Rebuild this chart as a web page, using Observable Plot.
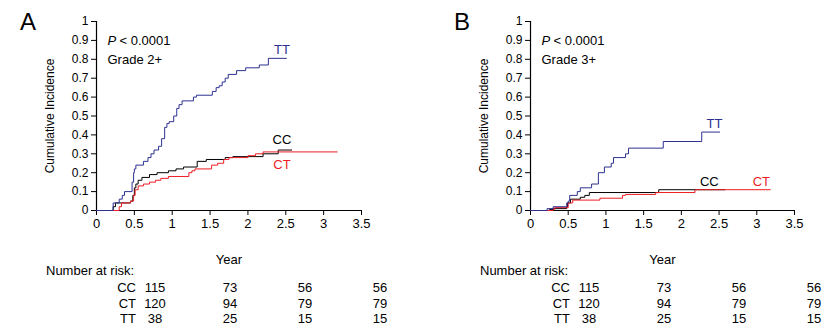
<!DOCTYPE html>
<html>
<head>
<meta charset="utf-8">
<script src="https://cdn.jsdelivr.net/npm/d3@7"></script>
<script src="https://cdn.jsdelivr.net/npm/@observablehq/plot@0.6"></script>
<style>
  body { margin: 0; background: #fff; font-family: "Liberation Sans", Arial, sans-serif; }
  #wrap { display: flex; width: 830px; height: 336px; }
  .panel { position: relative; width: 415px; height: 336px; }
  .panel svg { position: absolute; left: 0; top: 0; }
  .abs { position: absolute; white-space: nowrap; font-size: 13px; line-height: 15px; color: #000; }
  .letter { position: absolute; font-size: 24px; line-height: 24px; color: #000; }
</style>
</head>
<body>
<div id="wrap"></div>
<script>
// ---------- data ----------
const groups = ["CC", "CT", "TT"];
const groupColors = ["#000000", "#ee1c24", "#2e3192"];
const xTicks = [0, 0.5, 1, 1.5, 2, 2.5, 3, 3.5];
const xTickLabels = ["0", "0.5", "1", "1.5", "2", "2.5", "3", "3.5"];
const yTicks = [0, 0.1, 0.2, 0.3, 0.4, 0.5, 0.6, 0.7, 0.8, 0.9, 1];
const yTickLabels = ["0", "0.1", "0.2", "0.3", "0.4", "0.5", "0.6", "0.7", "0.8", "0.9", "1"];

// Panel A: Grade 2+
const g2_CC_t = [0, 0.22, 0.25, 0.45, 0.48, 0.50, 0.52, 0.55, 0.60, 0.70, 0.80, 0.95, 1.05, 1.15, 1.33, 1.45, 1.70, 1.80, 2.20, 2.40, 2.58];
const g2_CC_v = [0, 0.02, 0.04, 0.05, 0.08, 0.12, 0.14, 0.16, 0.175, 0.19, 0.20, 0.21, 0.22, 0.23, 0.26, 0.27, 0.28, 0.285, 0.30, 0.32, 0.32];
const g2_CT_t = [0, 0.30, 0.33, 0.45, 0.49, 0.51, 0.55, 0.62, 0.70, 0.78, 0.85, 0.95, 1.22, 1.26, 1.30, 1.52, 1.60, 1.68, 1.75, 2.00, 2.10, 2.20, 3.18];
const g2_CT_v = [0, 0.02, 0.04, 0.05, 0.08, 0.11, 0.13, 0.14, 0.15, 0.16, 0.17, 0.18, 0.20, 0.21, 0.22, 0.24, 0.25, 0.27, 0.28, 0.29, 0.30, 0.31, 0.31];
const g2_TT_t = [0, 0.22, 0.30, 0.34, 0.37, 0.47, 0.49, 0.50, 0.52, 0.62, 0.68, 0.72, 0.76, 0.82, 0.86, 0.90, 0.93, 0.96, 1.02, 1.06, 1.09, 1.13, 1.28, 1.32, 1.53, 1.58, 1.62, 1.66, 1.70, 1.74, 1.85, 1.97, 2.15, 2.27, 2.51];
const g2_TT_v = [0, 0.04, 0.06, 0.08, 0.10, 0.15, 0.20, 0.22, 0.24, 0.26, 0.28, 0.30, 0.32, 0.34, 0.38, 0.44, 0.46, 0.47, 0.50, 0.54, 0.56, 0.58, 0.60, 0.61, 0.63, 0.65, 0.66, 0.68, 0.70, 0.72, 0.74, 0.755, 0.77, 0.805, 0.805];
const g2_labelX = [2.45, 2.45, 2.45];   // CC, CT, TT
const g2_labelY = [0.374, 0.24, 0.85];

// Panel B: Grade 3+
const g3_CC_t = [0, 0.25, 0.30, 0.48, 0.49, 0.53, 0.66, 0.72, 0.78, 1.70, 2.58];
const g3_CC_v = [0, 0.005, 0.01, 0.02, 0.04, 0.06, 0.07, 0.08, 0.095, 0.11, 0.11];
const g3_CT_t = [0, 0.30, 0.32, 0.50, 0.56, 0.92, 1.22, 1.26, 1.66, 2.18, 3.18];
const g3_CT_v = [0, 0.005, 0.015, 0.04, 0.055, 0.065, 0.08, 0.085, 0.095, 0.11, 0.11];
const g3_TT_t = [0, 0.22, 0.30, 0.48, 0.50, 0.52, 0.62, 0.66, 0.81, 0.90, 0.98, 1.07, 1.10, 1.26, 1.30, 1.76, 2.27, 2.51];
const g3_TT_v = [0, 0.01, 0.02, 0.04, 0.05, 0.08, 0.10, 0.12, 0.14, 0.20, 0.23, 0.25, 0.28, 0.30, 0.33, 0.365, 0.415, 0.415];
const g3_labelX = [2.37, 3.06, 2.44];
const g3_labelY = [0.153, 0.153, 0.46];

// Number at risk
const riskGroups = ["CC", "CT", "TT"];
const riskCC = [115, 73, 56, 56];
const riskCT = [120, 94, 79, 79];
const riskTT = [38, 25, 15, 15];

// ---------- build ----------
function rows(t, v, g) { return t.map((x, i) => ({t: x, v: v[i], g})); }

function panel({letter, grade, series, labelX, labelY, ml, mr}) {
  const data = [
    ...rows(series[0][0], series[0][1], "CC"),
    ...rows(series[1][0], series[1][1], "CT"),
    ...rows(series[2][0], series[2][1], "TT")
  ];
  const labels = groups.map((g, i) => ({g, x: labelX[i], y: labelY[i]}));
  const W = 415, H = 268, mt = 21, mb = 58;
  const svg = Plot.plot({
    width: W, height: H,
    marginLeft: ml, marginRight: mr, marginTop: mt, marginBottom: mb,
    x: {domain: [0, 3.5]},
    y: {domain: [0, 1]},
    color: {domain: groups, range: groupColors},
    style: {fontFamily: "'Liberation Sans', Arial, sans-serif", fontSize: "12px", color: "#000", background: "transparent", overflow: "visible"},
    marks: [
      Plot.axisX({ticks: xTicks, tickFormat: (d, i) => xTickLabels[i], tickSize: 5, tickPadding: 3, fontSize: 12,
        label: "Year", labelAnchor: "center", labelOffset: 53, labelArrow: "none", fontSize: 13}),
      Plot.axisY({ticks: yTicks, tickFormat: (d, i) => yTickLabels[i], tickSize: 5, tickPadding: 3, fontSize: 12,
        label: "Cumulative Incidence", labelAnchor: "center", labelOffset: 51, labelArrow: "none"}),
      Plot.ruleY([0], {strokeWidth: 1.2}),
      Plot.ruleX([0], {strokeWidth: 1.2}),
      Plot.line(data, {x: "t", y: "v", z: "g", stroke: "g", curve: "step-after", strokeWidth: 1}),
      Plot.text(labels, {x: "x", y: "y", text: "g", fill: "g", fontSize: 13, textAnchor: "middle"}),
      Plot.text(["P"], {frameAnchor: "top-left", dx: 11, dy: 14, text: d => d, fontSize: 13, fontStyle: "italic", textAnchor: "start"}),
      Plot.text(["< 0.0001"], {frameAnchor: "top-left", dx: 23, dy: 14, text: d => d, fontSize: 13, textAnchor: "start"}),
      Plot.text([grade], {frameAnchor: "top-left", dx: 11, dy: 33, text: d => d, fontSize: 13, textAnchor: "start"})
    ]
  });
  const div = document.createElement("div");
  div.className = "panel";
  div.appendChild(svg);
  const L = document.createElement("div");
  L.className = "letter";
  L.textContent = letter;
  L.style.left = (ml - 76) + "px";
  L.style.top = "10px";
  div.appendChild(L);
  // number at risk table
  const add = (txt, left, top, align) => {
    const e = document.createElement("div");
    e.className = "abs";
    e.textContent = txt;
    e.style.top = top + "px";
    if (align === "right") { e.style.left = (left - 60) + "px"; e.style.width = "60px"; e.style.textAlign = "right"; }
    else if (align === "center") { e.style.left = (left - 30) + "px"; e.style.width = "60px"; e.style.textAlign = "center"; }
    else e.style.left = left + "px";
    div.appendChild(e);
  };
  add("Number at risk:", ml - 50, 263);
  const colX = [59, 134, 209, 284];
  const rowTop = [280, 295.5, 311];
  [riskCC, riskCT, riskTT].forEach((r, ri) => {
    add(riskGroups[ri], ml + 40, rowTop[ri], "right");
    r.forEach((n, ci) => add(String(n), ml + colX[ci], rowTop[ri], "center"));
  });
  return div;
}

const wrap = document.getElementById("wrap");
wrap.appendChild(panel({letter: "A", grade: "Grade 2+",
  series: [[g2_CC_t, g2_CC_v], [g2_CT_t, g2_CT_v], [g2_TT_t, g2_TT_v]],
  labelX: g2_labelX, labelY: g2_labelY, ml: 96, mr: 54}));
wrap.appendChild(panel({letter: "B", grade: "Grade 3+",
  series: [[g3_CC_t, g3_CC_v], [g3_CT_t, g3_CT_v], [g3_TT_t, g3_TT_v]],
  labelX: g3_labelX, labelY: g3_labelY, ml: 115, mr: 36}));
</script>
</body>
</html>
